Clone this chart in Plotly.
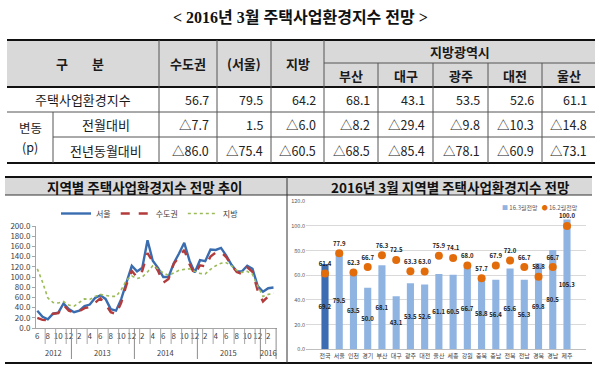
import plotly.graph_objects as go
import pandas as pd

W, H = 600, 377
FONT = "Noto Sans CJK KR"


def px(x):
    return x / W


def py(y):
    return 1 - y / H


# ---------------- data ----------------
title_text = "< 2016년 3월 주택사업환경지수 전망 >"

# table
tbl_cols = ["수도권", "(서울)", "지방", "부산", "대구", "광주", "대전", "울산"]
tbl_group = "지방광역시"
tbl_index = [56.7, 79.5, 64.2, 68.1, 43.1, 53.5, 52.6, 61.1]
tbl_mom = [-7.7, 1.5, -6.0, -8.2, -29.4, -9.8, -10.3, -14.8]
tbl_yoy = [-86.0, -75.4, -60.5, -68.5, -85.4, -78.1, -60.9, -73.1]

# line chart (2012.06 ~ 2016.03)
periods = pd.period_range("2012-06", "2016-03", freq="M")
seoul = [34, 22, 17, 28, 30, 48, 37, 31, 34, 43, 46, 59, 64, 57, 37, 34, 57, 91, 122, 111,
         118, 172, 132, 118, 100, 100, 127, 146, 167, 132, 109, 133, 131, 154, 153, 157,
         142, 124, 111, 111, 122, 116, 82, 71, 78, 79.5]
capital = [20, 16, 15, 28, 29, 45, 34, 30, 33, 39, 41, 50, 58, 47, 31, 27, 50, 85, 112, 100,
           112, 147, 128, 112, 89, 96, 126, 140, 153, 125, 105, 123, 121, 140, 148, 149,
           139, 123, 110, 106, 119, 110, 73, 52, 62, 66]
local = [116, 90, 59, 50, 49, 52, 45, 43, 50, 57, 56, 62, 66, 64, 62, 62, 75, 94, 102, 97,
         100, 110, 122, 116, 108, 103, 108, 113, 115, 116, 111, 107, 106, 115, 122, 127,
         128, 122, 113, 109, 111, 105, 82, 62, 66, 68]

# bar chart
regions = ["전국", "서울", "인천", "경기", "부산", "대구", "광주", "대전", "울산",
           "세종", "강원", "충북", "충남", "전북", "전남", "경북", "경남", "제주"]
outlook_mar = [69.2, 79.5, 63.5, 50.0, 68.1, 43.1, 53.5, 52.6, 61.1,
               60.5, 66.7, 58.8, 56.4, 65.6, 56.3, 69.8, 80.5, 105.3]
outlook_feb = [61.4, 77.9, 62.3, 66.7, 76.3, 72.5, 63.3, 63.0, 75.9,
               74.1, 68.0, 57.7, 67.9, 72.0, 66.7, 58.8, 66.7, 100.0]
name_mar = "16.3월전망"
name_feb = "16.2월전망"

# ---------------- figure ----------------
fig = go.Figure()
shapes = []
annots = []


def hline(y, x0, x1, w=1.0, c="#404040"):
    shapes.append(dict(type="line", xref="paper", yref="paper", x0=px(x0), x1=px(x1),
                       y0=py(y), y1=py(y), line=dict(color=c, width=w)))


def vline(x, y0, y1, w=1.0, c="#404040"):
    shapes.append(dict(type="line", xref="paper", yref="paper", x0=px(x), x1=px(x),
                       y0=py(y0), y1=py(y1), line=dict(color=c, width=w)))


def rect(x0, y0, x1, y1, fill):
    shapes.append(dict(type="rect", xref="paper", yref="paper", x0=px(x0), x1=px(x1),
                       y0=py(y1), y1=py(y0), fillcolor=fill, line=dict(width=0), layer="below"))


def text(t, x, y, size=12, bold=False, xanchor="center", color="#1a1a1a", family=FONT):
    annots.append(dict(text=t, xref="paper", yref="paper", x=px(x), y=py(y),
                       xanchor=xanchor, yanchor="middle", showarrow=False,
                       font=dict(size=size, color=color, family=family,
                                 weight="bold" if bold else "normal")))


# title
text(title_text, 300, 18, size=16, bold=True, family="Liberation Serif, " + FONT, color="#111")

# ---------------- table ----------------
TL, TR = 7, 595
edges = [159, 217, 271, 324, 378, 433, 488, 542, 595]
rect(TL, 40, TR, 87, "#d9d9d9")
hline(40, TL, TR, 2.2, "#111")
hline(87, TL, TR, 2.0, "#111")
hline(163, TL, TR, 2.0, "#111")
hline(112, TL, TR, 1, "#555")
hline(137, 53, TR, 1, "#555")
hline(63, 324, TR, 1, "#555")
vline(53, 112, 163, 1, "#555")
for e in edges[:4]:
    vline(e, 40, 163, 1, "#555")
for e in edges[4:8]:
    vline(e, 63, 163, 1, "#555")

text("구", 62, 63.5, 13, True)
text("분", 98, 63.5, 13, True)
for k in range(3):
    text(tbl_cols[k], (edges[k] + edges[k + 1]) / 2, 63.5, 13, True)
text(tbl_group, (324 + 595) / 2, 51.5, 13, True)
for k in range(3, 8):
    text(tbl_cols[k], (edges[k] + edges[k + 1]) / 2, 75.5, 13, True)

text("주택사업환경지수", 83, 99.5, 13)
text("변동", 30, 127.5, 12.5)
text("(p)", 30, 146, 12.5)
text("전월대비", 106, 124.5, 13)
text("전년동월대비", 106, 150, 13)


def fmt_change(v):
    return ("△" + f"{abs(v):.1f}") if v < 0 else f"{v:.1f}"


for k in range(8):
    xr = edges[k + 1] - 6
    text(f"{tbl_index[k]:.1f}", xr, 99.5, 12.5, xanchor="right", color="#222")
    text(fmt_change(tbl_mom[k]), xr, 124.5, 12.5, xanchor="right", color="#222")
    text(fmt_change(tbl_yoy[k]), xr, 150, 12.5, xanchor="right", color="#222")

# ---------------- section frames ----------------
rect(5, 177, 592, 195, "#d9d9d9")
hline(177, 5, 592, 2.2, "#111")
hline(195, 5, 592, 1, "#333")
hline(363, 5, 592, 2.2, "#111")
vline(287, 177, 363, 1, "#333")
text("지역별 주택사업환경지수 전망 추이", 145, 186.5, 13.5, True, color="#111")
text("2016년 3월 지역별 주택사업환경지수 전망", 450, 186.5, 13.5, True, color="#111")

# ---------------- line chart ----------------
xi = list(range(len(periods)))
month_labels = [str(p.month) for p in periods]
years = [str(p.year) for p in periods]

fig.add_trace(go.Scatter(x=xi, y=seoul, mode="lines", name="서울",
                         line=dict(color="#3a6db0", width=2.4), xaxis="x", yaxis="y"))
fig.add_trace(go.Scatter(x=xi, y=capital, mode="lines", name="수도권",
                         line=dict(color="#b33b3b", width=2.4, dash="dash"), xaxis="x", yaxis="y"))
fig.add_trace(go.Scatter(x=xi, y=local, mode="lines", name="지방",
                         line=dict(color="#9bbb59", width=1.6, dash="dot"), xaxis="x", yaxis="y"))

# month separators / year groups
year_order = []
for i, yv in enumerate(years):
    if not year_order or year_order[-1][0] != yv:
        year_order.append([yv, i, i])
    else:
        year_order[-1][2] = i
bounds = set()
for yv, a, b in year_order:
    bounds.add(a - 0.5)
    bounds.add(b + 0.5)
    annots.append(dict(text=yv, xref="x", yref="paper", x=(a + b) / 2, y=py(352),
                       showarrow=False, xanchor="center", yanchor="middle",
                       font=dict(size=7.5, color="#404040", family=FONT)))
for bnd in sorted(bounds):
    shapes.append(dict(type="line", xref="x", yref="paper", x0=bnd, x1=bnd,
                       y0=py(328), y1=py(359), line=dict(color="#8c8c8c", width=1)))
for i in range(0, len(xi), 2):
    b = i - 0.5
    if b not in bounds:
        shapes.append(dict(type="line", xref="x", yref="paper", x0=b, x1=b,
                           y0=py(328), y1=py(344), line=dict(color="#a6a6a6", width=1)))

# ---------------- bar chart ----------------
bar_main = "#8fb4e2"
bar_colors = ["#3c6db3"] + [bar_main] * (len(regions) - 1)
dot_color = "#e36c0a"
fig.add_trace(go.Bar(x=regions, y=outlook_mar, name=name_mar, xaxis="x2", yaxis="y2",
                     marker=dict(color=bar_colors, line=dict(width=0)), width=0.5,
                     text=[f"{v:.1f}" for v in outlook_mar], textposition="inside",
                     insidetextanchor="middle", textangle=0, constraintext="none",
                     textfont=dict(size=6, color="#1a1a1a", family=FONT, weight="bold"),
                     showlegend=False))
fig.add_trace(go.Scatter(x=regions, y=outlook_feb, mode="markers+text", name=name_feb,
                         xaxis="x2", yaxis="y2",
                         marker=dict(color=dot_color, size=8),
                         text=[f"{v:.1f}" for v in outlook_feb], textposition="top center",
                         textfont=dict(size=6, color="#1a1a1a", family=FONT, weight="bold"),
                         cliponaxis=False, showlegend=False))

# compact legend of the right chart (as text keys)
annots.append(dict(
    text=(f"<span style='color:{bar_main}'>■</span> {name_mar}   "
          f"<span style='color:{dot_color}'>●</span> {name_feb}"),
    xref="paper", yref="paper", x=px(500), y=py(207), xanchor="left", yanchor="middle",
    showarrow=False, font=dict(size=6, color="#595959", family=FONT)))

fig.update_layout(
    width=W, height=H, autosize=False,
    margin=dict(l=0, r=0, t=0, b=0, autoexpand=False),
    paper_bgcolor="white", plot_bgcolor="white",
    font=dict(family=FONT, color="#404040"),
    shapes=shapes, annotations=annots,
    xaxis=dict(domain=[px(36), px(277)], range=[-0.25, 45.67], anchor="y",
               tickmode="array", tickvals=xi[::2], ticktext=month_labels[::2], tickangle=0,
               tickfont=dict(size=8, color="#404040"), showline=True, linecolor="#a6a6a6",
               ticks="", showgrid=False, zeroline=False, automargin=False),
    yaxis=dict(domain=[py(328), py(226)], range=[0, 200], dtick=20, tickformat=".1f",
               anchor="x", tickfont=dict(size=8, color="#404040"), showline=True,
               linecolor="#a6a6a6", ticks="outside", ticklen=3, tickcolor="#a6a6a6",
               showgrid=False, zeroline=False, automargin=False),
    xaxis2=dict(domain=[px(306), px(586)], anchor="y2", type="category", tickangle=0,
                tickfont=dict(size=6, color="#404040"), showline=True, linecolor="#bfbfbf",
                ticks="", showgrid=False, automargin=False),
    yaxis2=dict(domain=[py(349.3), py(201.3)], range=[0, 120], dtick=20, tickformat=".1f",
                anchor="x2", tickfont=dict(size=5.5, color="#595959"), showgrid=True,
                gridcolor="#d9d9d9", gridwidth=1, zeroline=False, showline=False,
                automargin=False),
    legend=dict(orientation="h", x=px(150), y=py(199), xanchor="center", yanchor="top",
                font=dict(size=8, color="#404040"), bgcolor="rgba(0,0,0,0)",
                itemwidth=30, tracegroupgap=0),
)

fig.write_html("out.html", config={"displayModeBar": False},
               post_script="document.body.style.margin='0';document.body.style.overflow='hidden';")
